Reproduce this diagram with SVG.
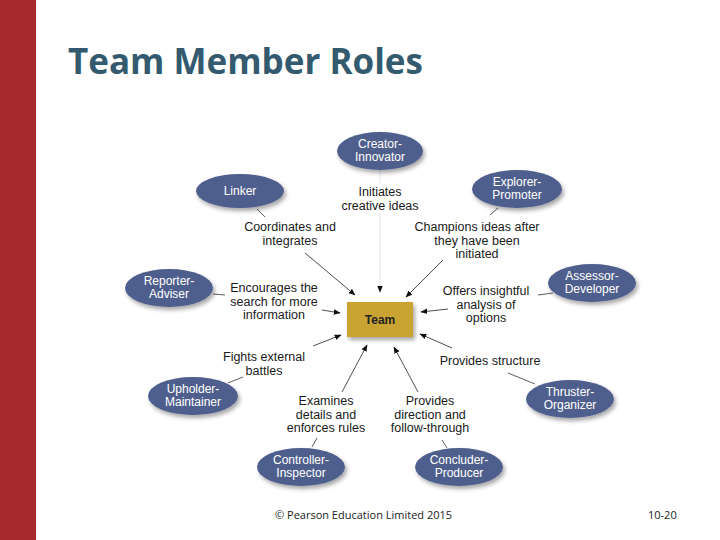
<svg xmlns="http://www.w3.org/2000/svg" width="720" height="540" viewBox="0 0 720 540">
<defs>
<style>
.node ellipse{fill:#505E8D;filter:url(#sh)}
.node text{fill:#fff;font-family:"Liberation Sans",Arial,sans-serif;font-size:12px;text-anchor:middle}
.lbl{fill:#1a1a1a;font-family:"Liberation Sans",Arial,sans-serif;font-size:12.5px;text-anchor:middle}
.tie{stroke:#333;stroke-width:0.8;fill:none}
.arr{stroke:#222;stroke-width:0.8;fill:none;marker-end:url(#ah)}
.foot{fill:#222;font-family:"Open Sans","Liberation Sans",sans-serif;font-size:11px}
</style>
<filter id="sh" x="-30%" y="-30%" width="160%" height="170%">
<feDropShadow dx="2" dy="3" stdDeviation="2.2" flood-color="#000" flood-opacity="0.35"/>
</filter>
<marker id="ah" viewBox="0 0 10 10" refX="9" refY="5" markerWidth="7" markerHeight="7" markerUnits="userSpaceOnUse" orient="auto">
<path d="M0,1 L10,5 L0,9 z" fill="#111"/>
</marker>
</defs>
<rect width="720" height="540" fill="#fff"/>
<rect x="0" y="0" width="36" height="540" fill="#A8292D"/>
<text x="68" y="74" font-family="Open Sans,Liberation Sans,sans-serif" font-weight="bold" font-size="35" fill="#335A6E">Team Member Roles</text>

<g id="connectors">
<line x1="380" y1="170" x2="380" y2="184" style="stroke:#e0e0e0;stroke-width:0.8"/>
<line x1="380" y1="213" x2="380" y2="292" style="stroke:#d8d8d8;stroke-width:0.8;marker-end:url(#ah)"/>
<line class="tie" x1="257" y1="209" x2="265" y2="217"/>
<line class="arr" x1="305" y1="253" x2="355" y2="295"/>
<line class="tie" x1="498" y1="208" x2="490" y2="215"/>
<line class="arr" x1="443" y1="260" x2="406" y2="297"/>
<line class="tie" x1="213" y1="294" x2="225" y2="295"/>
<line class="arr" x1="322" y1="310" x2="340" y2="313"/>
<line class="tie" x1="553" y1="293" x2="538" y2="295"/>
<line class="arr" x1="448" y1="309" x2="421" y2="312"/>
<line class="tie" x1="228" y1="383" x2="243" y2="377"/>
<line class="arr" x1="313" y1="346" x2="341" y2="335"/>
<line class="tie" x1="312" y1="447" x2="317" y2="438"/>
<line class="arr" x1="342" y1="392" x2="367" y2="345"/>
<line class="tie" x1="447" y1="448" x2="442" y2="440"/>
<line class="arr" x1="418" y1="392" x2="394" y2="347"/>
<line class="tie" x1="535" y1="384" x2="508" y2="373"/>
<line class="arr" x1="452" y1="348" x2="420" y2="334"/>
</g>

<g id="labels">
<text class="lbl" x="380" y="196">Initiates<tspan x="380" dy="13.5">creative ideas</tspan></text>
<text class="lbl" x="290" y="231">Coordinates and<tspan x="290" dy="13.5">integrates</tspan></text>
<text class="lbl" x="477" y="231">Champions ideas after<tspan x="477" dy="13.5">they have been</tspan><tspan x="477" dy="13.5">initiated</tspan></text>
<text class="lbl" x="274" y="292">Encourages the<tspan x="274" dy="13.5">search for more</tspan><tspan x="274" dy="13.5">information</tspan></text>
<text class="lbl" x="486" y="295">Offers insightful<tspan x="486" dy="13.5">analysis of</tspan><tspan x="486" dy="13.5">options</tspan></text>
<text class="lbl" x="264" y="361">Fights external<tspan x="264" dy="13.5">battles</tspan></text>
<text class="lbl" x="490" y="365">Provides structure</text>
<text class="lbl" x="326" y="405">Examines<tspan x="326" dy="13.5">details and</tspan><tspan x="326" dy="13.5">enforces rules</tspan></text>
<text class="lbl" x="430" y="405">Provides<tspan x="430" dy="13.5">direction and</tspan><tspan x="430" dy="13.5">follow-through</tspan></text>
</g>

<g id="team">
<rect x="347" y="302" width="66" height="35" fill="#C9A430" filter="url(#sh)"/>
<text x="380" y="324" font-family="Liberation Sans,Arial,sans-serif" font-weight="bold" font-size="12" fill="#222" text-anchor="middle">Team</text>
</g>
<g id="creator" class="node"><ellipse cx="380" cy="151" rx="43" ry="19"/><text x="380" y="148">Creator-<tspan x="380" dy="13">Innovator</tspan></text></g>
<g id="linker" class="node"><ellipse cx="240" cy="191" rx="44" ry="17"/><text x="240" y="195">Linker</text></g>
<g id="explorer" class="node"><ellipse cx="517" cy="189" rx="45" ry="19"/><text x="517" y="186">Explorer-<tspan x="517" dy="13">Promoter</tspan></text></g>
<g id="reporter" class="node"><ellipse cx="169" cy="288" rx="44" ry="19"/><text x="169" y="285">Reporter-<tspan x="169" dy="13">Adviser</tspan></text></g>
<g id="assessor" class="node"><ellipse cx="592" cy="283" rx="44" ry="19"/><text x="592" y="280">Assessor-<tspan x="592" dy="13">Developer</tspan></text></g>
<g id="upholder" class="node"><ellipse cx="193" cy="396" rx="45" ry="19"/><text x="193" y="393">Upholder-<tspan x="193" dy="13">Maintainer</tspan></text></g>
<g id="thruster" class="node"><ellipse cx="570" cy="399" rx="44" ry="19"/><text x="570" y="396">Thruster-<tspan x="570" dy="13">Organizer</tspan></text></g>
<g id="controller" class="node"><ellipse cx="301" cy="467" rx="44" ry="19"/><text x="301" y="464">Controller-<tspan x="301" dy="13">Inspector</tspan></text></g>
<g id="concluder" class="node"><ellipse cx="459" cy="467" rx="44" ry="19"/><text x="459" y="464">Concluder-<tspan x="459" dy="13">Producer</tspan></text></g>

<text class="foot" x="275" y="519">© Pearson Education Limited 2015</text>
<text class="foot" x="648" y="519">10-20</text>
</svg>
